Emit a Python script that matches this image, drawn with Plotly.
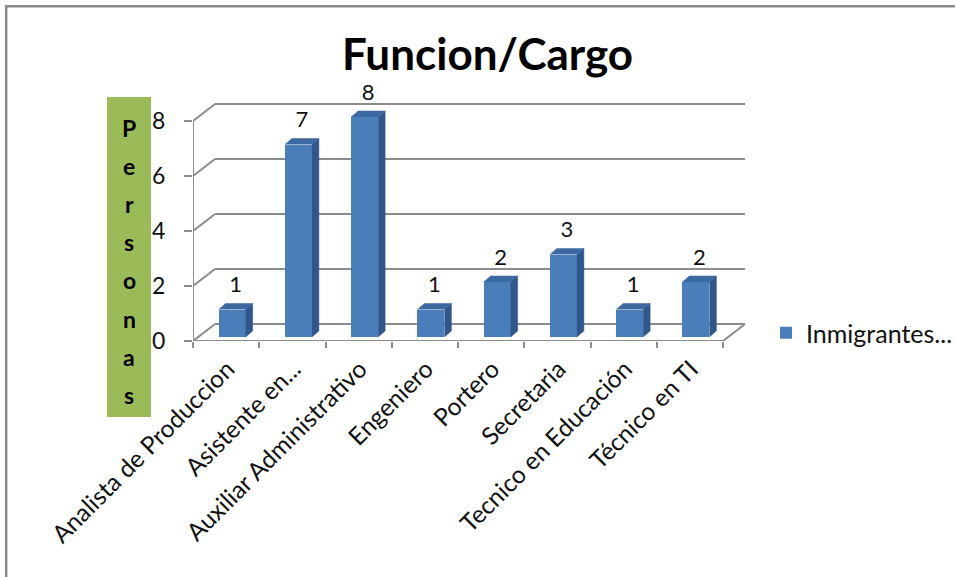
import numpy as np
import plotly.graph_objects as go

# ---------------- data ----------------
categories = ["Analista de Produccion", "Asistente en...", "Auxiliar Administrativo",
              "Engeniero", "Portero", "Secretaria", "Tecnico en Educación", "Técnico en TI"]
values = [1, 7, 8, 1, 2, 3, 1, 2]
y_ticks = [0, 2, 4, 6, 8]
series_name = "Inmigrantes..."
title_text = "Funcion/Cargo"
y_title_letters = list("Personas")

# ---------------- layout geometry (pixels) ----------------
W_FIG, H_FIG = 955, 577
L, R, T, B = 193, 205, 70, 236
PW = W_FIG - L - R
PH = H_FIG - T - B
PX_X = 66.25   # px per category
PX_Y = 27.5    # px per value unit
X0 = -0.5
x_range = [X0, X0 + PW / PX_X]
y_range = [0, PH / PX_Y]


def pxx(px):
    return (px - L) / PW


def pxy(py):
    return (H_FIG - B - py) / PH


WALL_DX, WALL_DY = 22 / PX_X, 17 / PX_Y
BAR_SHIFT, BAR_W, BAR_BASE = 6 / PX_X, 27 / PX_X, 4 / PX_Y
BAR_DX, BAR_DY = 7 / PX_X, 6 / PX_Y
LABEL_UP = 23 / PX_Y

FONT = "Lato"
GRID = "#8C8C8C"
FRONT, SIDE, TOP = "#4A7EBB", "#30568A", "#3D69A2"

n = len(categories)
idx = np.arange(n)
vals = np.array(values, dtype=float)
xc = idx + BAR_SHIFT
xl = xc - BAR_W / 2
xr = xc + BAR_W / 2
top = BAR_BASE + vals
x_end = n - 0.5

fig = go.Figure()

# front faces of the columns
fig.add_trace(go.Bar(x=xc, y=vals, base=BAR_BASE, width=BAR_W, name=series_name,
                     marker=dict(color=FRONT, line=dict(width=0)), showlegend=True,
                     hoverinfo="skip"))

# side and top faces
sx, sy, tx, ty = [], [], [], []
for a, b, t in zip(xl, xr, top):
    sx += [b, b + BAR_DX, b + BAR_DX, b, None]
    sy += [BAR_BASE, BAR_BASE + BAR_DY, t + BAR_DY, t, None]
    tx += [a, a + BAR_DX, b + BAR_DX, b, None]
    ty += [t, t + BAR_DY, t + BAR_DY, t, None]
fig.add_trace(go.Scatter(x=sx, y=sy, mode="lines", fill="toself", fillcolor=SIDE,
                         line=dict(width=0.5, color=SIDE), showlegend=False, hoverinfo="skip"))
fig.add_trace(go.Scatter(x=tx, y=ty, mode="lines", fill="toself", fillcolor=TOP,
                         line=dict(width=0.5, color=TOP), showlegend=False, hoverinfo="skip"))

# data labels
fig.add_trace(go.Scatter(x=xc + BAR_DX / 2, y=top + LABEL_UP, mode="text",
                         text=[str(v) for v in values], textposition="middle center",
                         textfont=dict(family=FONT, size=22, color="#111"),
                         showlegend=False, hoverinfo="skip", cliponaxis=False))

# invisible trace for boundary tick axis
fig.add_trace(go.Scatter(x=[X0], y=[0], xaxis="x2", mode="markers",
                         marker=dict(opacity=0), showlegend=False, hoverinfo="skip"))

shapes = []
gl = dict(color=GRID, width=2)
for v in y_ticks:
    shapes.append(dict(type="line", xref="x", yref="y", layer="below",
                       x0=X0 + WALL_DX, x1=x_end + WALL_DX, y0=v + WALL_DY, y1=v + WALL_DY, line=gl))
    shapes.append(dict(type="line", xref="x", yref="y", layer="below",
                       x0=X0, x1=X0 + WALL_DX, y0=v, y1=v + WALL_DY, line=gl))
# front axis lines and floor edge
shapes.append(dict(type="line", xref="x", yref="y", layer="below",
                   x0=X0, x1=X0, y0=0, y1=max(y_ticks), line=gl))
shapes.append(dict(type="line", xref="x", yref="y", layer="below",
                   x0=X0, x1=x_end, y0=0, y1=0, line=gl))
shapes.append(dict(type="line", xref="x", yref="y", layer="below",
                   x0=x_end, x1=x_end + WALL_DX, y0=0, y1=WALL_DY, line=gl))
# green axis-title box
shapes.append(dict(type="rect", xref="paper", yref="paper", layer="below",
                   x0=pxx(107), x1=pxx(151), y0=pxy(417), y1=pxy(97),
                   fillcolor="#9BBB59", line=dict(width=0)))
# outer frame (top & left)
shapes.append(dict(type="line", xref="paper", yref="paper",
                   x0=pxx(5), x1=pxx(960), y0=pxy(6.2), y1=pxy(6.2),
                   line=dict(color="#8A8A8A", width=2.5)))
shapes.append(dict(type="line", xref="paper", yref="paper",
                   x0=pxx(6.2), x1=pxx(6.2), y0=pxy(5), y1=pxy(585),
                   line=dict(color="#8A8A8A", width=2.5)))

annotations = [dict(text="<b>" + title_text + "</b>", xref="paper", yref="paper",
                    x=pxx(487), y=pxy(53), xanchor="center", yanchor="middle", showarrow=False,
                    font=dict(family=FONT, size=44, color="#000"))]
for k, ch in enumerate(y_title_letters):
    annotations.append(dict(text="<b>" + ch + "</b>", xref="paper", yref="paper",
                            x=pxx(129), y=pxy(128 + 38.1 * k), xanchor="center", yanchor="middle",
                            showarrow=False, font=dict(family=FONT, size=23, color="#000")))

fig.update_layout(
    template="none",
    width=W_FIG, height=H_FIG,
    margin=dict(l=L, r=R, t=T, b=B, autoexpand=False),
    paper_bgcolor="white", plot_bgcolor="rgba(0,0,0,0)",
    font=dict(family=FONT, color="#111"),
    showlegend=True,
    legend=dict(x=pxx(766), y=pxy(333), xanchor="left", yanchor="middle",
                font=dict(family=FONT, size=25, color="#111"),
                bgcolor="rgba(0,0,0,0)", borderwidth=0),
    xaxis=dict(range=x_range, tickvals=list(idx + 0.02), ticktext=categories, tickangle=-45,
               ticks="", showgrid=False, zeroline=False, showline=False,
               tickfont=dict(family=FONT, size=24.5, color="#111"), ticklabelstandoff=8,
               automargin=False, fixedrange=True),
    xaxis2=dict(range=x_range, overlaying="x", anchor="y", side="bottom",
                tickvals=list(np.arange(X0, x_end + 0.01, 1.0)), showticklabels=False,
                ticks="outside", ticklen=6, tickwidth=2, tickcolor=GRID,
                showgrid=False, zeroline=False, showline=False, automargin=False),
    yaxis=dict(range=y_range, tickvals=y_ticks, ticks="outside", ticklen=8, tickwidth=2,
               tickcolor=GRID, showgrid=False, zeroline=False, showline=False,
               tickfont=dict(family=FONT, size=23, color="#111"), ticklabelstandoff=14,
               automargin=False, fixedrange=True),
    shapes=shapes, annotations=annotations,
    bargap=0,
)

fig.write_html("out.html")
